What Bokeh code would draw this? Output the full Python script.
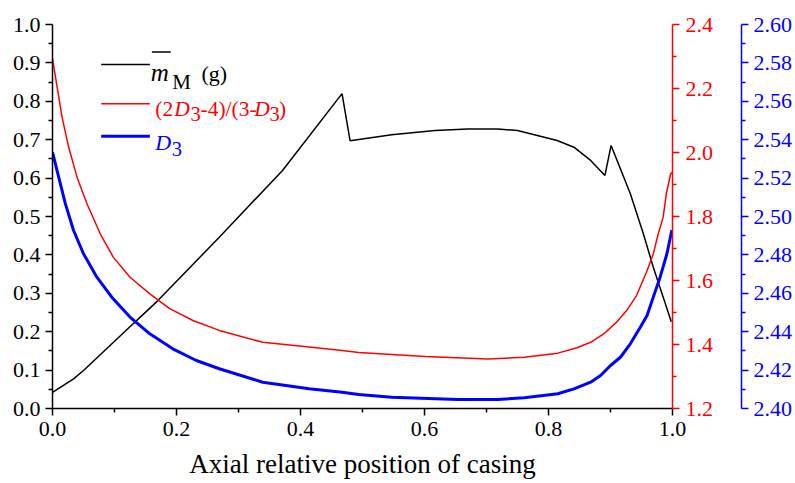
from bokeh.plotting import figure
from bokeh.models import Label, LinearAxis, Range1d, FixedTicker, NumeralTickFormatter
from bokeh.embed import file_html
from bokeh.resources import INLINE

# ---- data ----
x_m = [0.0, 0.034, 0.050, 0.130, 0.170, 0.269, 0.371, 0.467, 0.480, 0.547, 0.617, 0.670,
       0.718, 0.750, 0.782, 0.814, 0.841, 0.868, 0.891, 0.901, 0.932, 0.953, 0.969, 0.985, 0.998]
m_M = [0.042, 0.077, 0.099, 0.2205, 0.281, 0.446, 0.620, 0.820, 0.697, 0.713, 0.724, 0.728,
       0.728, 0.724, 0.711, 0.698, 0.6805, 0.646, 0.607, 0.685, 0.559, 0.455, 0.368, 0.290, 0.226]

x_r = [0.0, 0.0075, 0.0155, 0.026, 0.0396, 0.0556, 0.077, 0.098, 0.125, 0.157, 0.189, 0.2265,
       0.269, 0.339, 0.414, 0.467, 0.494, 0.601, 0.702, 0.761, 0.815, 0.846, 0.868, 0.889,
       0.910, 0.926, 0.942, 0.958, 0.969, 0.977, 0.985, 0.990, 0.997, 1.0]
ratio = [2.293, 2.204, 2.110, 2.017, 1.923, 1.840, 1.746, 1.673, 1.610, 1.558, 1.512, 1.475,
         1.444, 1.407, 1.392, 1.381, 1.375, 1.3625, 1.355, 1.360, 1.373, 1.390, 1.407, 1.433,
         1.470, 1.506, 1.553, 1.626, 1.683, 1.746, 1.798, 1.871, 1.933, 1.938]

x_b = [0.0, 0.010, 0.0208, 0.034, 0.050, 0.0716, 0.0956, 0.125, 0.157, 0.194, 0.232, 0.269,
       0.339, 0.414, 0.467, 0.494, 0.547, 0.654, 0.718, 0.761, 0.815, 0.841, 0.868, 0.884,
       0.900, 0.916, 0.932, 0.948, 0.959, 0.969, 0.980, 0.991, 0.999]
D3 = [2.5335, 2.5205, 2.5066, 2.4927, 2.4806, 2.4684, 2.4580, 2.4476, 2.4389, 2.4311, 2.4250,
      2.4207, 2.4137, 2.4103, 2.4085, 2.4073, 2.4059, 2.4047, 2.4047, 2.4056, 2.4077, 2.4102,
      2.4137, 2.4172, 2.4224, 2.4267, 2.4337, 2.4423, 2.4484, 2.4580, 2.4684, 2.4806, 2.4930]

x_ticks = [0.0, 0.2, 0.4, 0.6, 0.8, 1.0]
x_minor = [0.1, 0.3, 0.5, 0.7, 0.9]
left_ticks = [0.0, 0.1, 0.2, 0.3, 0.4, 0.5, 0.6, 0.7, 0.8, 0.9, 1.0]
left_minor = [0.05, 0.15, 0.25, 0.35, 0.45, 0.55, 0.65, 0.75, 0.85, 0.95]
red_ticks = [1.2, 1.4, 1.6, 1.8, 2.0, 2.2, 2.4]
red_minor = [1.3, 1.5, 1.7, 1.9, 2.1, 2.3]
blue_ticks = [2.40, 2.42, 2.44, 2.46, 2.48, 2.50, 2.52, 2.54, 2.56, 2.58, 2.60]
blue_minor = [2.41, 2.43, 2.45, 2.47, 2.49, 2.51, 2.53, 2.55, 2.57, 2.59]

x_title = "Axial relative position of casing"

FONT = "Liberation Serif"
BLACK, RED, BLUE = "#000000", "#FF0000", "#0000FF"

# ---- layout ----
W, H = 795, 483
L, R, T, B = 52, 119, 24, 75
FW, FH = W - L - R, H - T - B

p = figure(width=W, height=H, output_backend="svg", toolbar_location=None,
           x_range=Range1d(0, 1), y_range=Range1d(0, 1),
           min_border_left=L, min_border_right=R, min_border_top=T, min_border_bottom=B)
p.outline_line_color = None
p.xgrid.visible = False
p.ygrid.visible = False
p.background_fill_color = "white"
p.border_fill_color = "white"

p.extra_y_ranges = {"red": Range1d(1.2, 2.4), "blue": Range1d(2.40, 2.60)}


def style_axis(ax, color, size="22px"):
    ax.axis_line_color = color
    ax.axis_line_width = 1.5
    ax.major_tick_line_color = color
    ax.minor_tick_line_color = color
    ax.major_tick_line_width = 1.5
    ax.minor_tick_line_width = 1.5
    ax.major_tick_out = 7
    ax.major_tick_in = 0
    ax.minor_tick_out = 4
    ax.minor_tick_in = 0
    ax.major_label_text_color = color
    ax.major_label_text_font = FONT
    ax.major_label_text_font_size = size


xa = p.xaxis[0]
style_axis(xa, BLACK)
xa.ticker = FixedTicker(ticks=x_ticks, minor_ticks=x_minor)
xa.formatter = NumeralTickFormatter(format="0.0")
xa.major_label_standoff = 6
xa.axis_label = x_title
xa.axis_label_text_font = FONT
xa.axis_label_text_font_size = "27px"
xa.axis_label_text_font_style = "normal"
xa.axis_label_text_color = BLACK
xa.axis_label_standoff = 10

ya = p.yaxis[0]
style_axis(ya, BLACK)
ya.ticker = FixedTicker(ticks=left_ticks, minor_ticks=left_minor)
ya.formatter = NumeralTickFormatter(format="0.0")
ya.major_label_standoff = 5

ra = LinearAxis(y_range_name="red")
style_axis(ra, RED)
ra.ticker = FixedTicker(ticks=red_ticks, minor_ticks=red_minor)
ra.formatter = NumeralTickFormatter(format="0.0")
ra.major_label_standoff = 6
ra.axis_label = " "
ra.axis_label_text_font_size = "10px"
ra.axis_label_standoff = 11
p.add_layout(ra, "right")

ba = LinearAxis(y_range_name="blue")
style_axis(ba, BLUE)
ba.ticker = FixedTicker(ticks=blue_ticks, minor_ticks=blue_minor)
ba.formatter = NumeralTickFormatter(format="0.00")
ba.major_label_standoff = 5
p.add_layout(ba, "right")

# ---- curves ----
p.line(x_m, m_M, line_color=BLACK, line_width=1.5)
p.line(x_r, ratio, line_color=RED, line_width=1.5, y_range_name="red")
p.line(x_b, D3, line_color=BLUE, line_width=3, y_range_name="blue")


# ---- hand-made legend (pixel layout converted to data units) ----
def dx(px):
    return (px - L) / FW


def dy(py):
    return (T + FH - py) / FH


def lab(text, px, py, color, size, style="normal"):
    p.add_layout(Label(x=dx(px), y=dy(py), text=text, text_font=FONT, text_font_size=f"{size}px",
                       text_font_style=style, text_color=color, text_baseline="alphabetic",
                       text_align="left"))


p.segment(x0=[dx(101)] * 3, x1=[dx(150)] * 3, y0=[dy(64), dy(103.3), dy(135.7)],
          y1=[dy(64), dy(103.3), dy(135.7)], line_color=[BLACK, RED, BLUE],
          line_width=[1.5, 1.5, 3])
# overbar of m
p.segment(x0=[dx(152)], x1=[dx(171)], y0=[dy(51.5)], y1=[dy(51.5)], line_color=BLACK, line_width=1.3)

lab("m", 151, 72, BLACK, 25, "italic")
lab("M", 172.5, 81.5, BLACK, 21)
lab("(g)", 202, 72.5, BLACK, 22)

lab("(2", 155.5, 108, RED, 21.5)
lab("D", 174.5, 108, RED, 21.5, "italic")
lab("3", 191, 113, RED, 20.5)
lab("-4)/(3-", 201, 108, RED, 21.5)
lab("D", 255, 108, RED, 21.5, "italic")
lab("3", 270.5, 113, RED, 20.5)
lab(")", 280, 108, RED, 21.5)

lab("D", 155.5, 141.7, BLUE, 22, "italic")
lab("3", 172, 148, BLUE, 20.5)

open("out.html", "w").write(file_html(p, INLINE))
